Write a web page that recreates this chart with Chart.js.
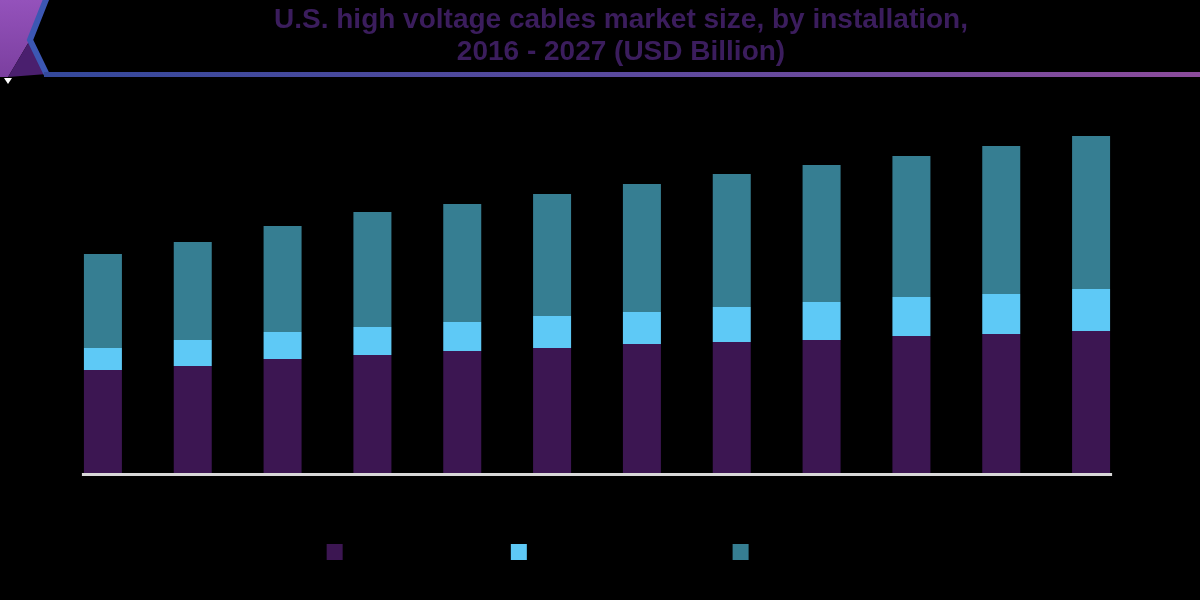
<!DOCTYPE html>
<html>
<head>
<meta charset="utf-8">
<script src="https://cdn.jsdelivr.net/npm/chart.js@4"></script>
<style>
  html, body { margin: 0; padding: 0; background: #000; }
  #wrap { width: 1200px; height: 600px; }
</style>
</head>
<body>
<div id="wrap"><canvas id="hvCables"></canvas></div>
<script>
var years = ['2016', '2017', '2018', '2019', '2020', '2021', '2022', '2023', '2024', '2025', '2026', '2027'];
var overhead    = [1.03, 1.07, 1.14, 1.18, 1.22, 1.25, 1.29, 1.31, 1.33, 1.37, 1.39, 1.42];
var underground = [0.22, 0.26, 0.27, 0.28, 0.29, 0.32, 0.32, 0.35, 0.38, 0.39, 0.40, 0.42];
var submarine   = [0.94, 0.98, 1.06, 1.15, 1.18, 1.22, 1.28, 1.33, 1.37, 1.41, 1.48, 1.53];
var titleLines = ['U.S. high voltage cables market size, by installation,', '2016 - 2027 (USD Billion)'];

// header art, title and the base line under the bars
var decor = {
  id: 'decor',
  afterLayout: function(chart) {
    // nudge the legend row a little to the right, like the original
    chart.legend.left += 10;
    chart.legend.right += 10;
  },
  beforeDraw: function(chart) {
    var c = chart.ctx;
    c.save();
    c.fillStyle = '#000';
    c.fillRect(0, 0, chart.width, chart.height);

    var g = c.createLinearGradient(0, 0, 0, 77);
    g.addColorStop(0, '#9452bb');
    g.addColorStop(1, '#7b3f9f');
    c.fillStyle = g;
    c.beginPath();
    c.moveTo(0, 0); c.lineTo(46, 0); c.lineTo(30, 40); c.lineTo(8, 77); c.lineTo(0, 77);
    c.closePath(); c.fill();

    c.fillStyle = '#4a1f6e';
    c.beginPath();
    c.moveTo(30, 40); c.lineTo(47, 74); c.lineTo(8, 77);
    c.closePath(); c.fill();

    c.strokeStyle = '#3c57b3';
    c.lineWidth = 6;
    c.beginPath();
    c.moveTo(47, -3); c.lineTo(30, 40); c.lineTo(47, 75);
    c.stroke();

    var lg = c.createLinearGradient(44, 0, 1200, 0);
    lg.addColorStop(0, '#34499c');
    lg.addColorStop(0.5, '#5a4a9e');
    lg.addColorStop(1, '#8c4c9c');
    c.fillStyle = lg;
    c.fillRect(44, 72, 1156, 5);

    c.fillStyle = '#fff';
    c.beginPath();
    c.moveTo(4, 78); c.lineTo(12, 78); c.lineTo(8, 84);
    c.closePath(); c.fill();

    c.fillStyle = '#3b1d5d';
    c.font = 'bold 28px "Liberation Sans", Arial, sans-serif';
    c.textAlign = 'center';
    c.textBaseline = 'alphabetic';
    c.fillText(titleLines[0], 621, 28);
    c.fillText(titleLines[1], 621, 60);
    c.restore();
  },
  afterDatasetsDraw: function(chart) {
    var bars = chart.getDatasetMeta(0).data;
    var first = bars[0], last = bars[bars.length - 1];
    var y = chart.scales.y.getPixelForValue(0) + 1.5;
    var c = chart.ctx;
    c.save();
    c.strokeStyle = '#d8d8d8';
    c.lineWidth = 3;
    c.beginPath();
    c.moveTo(first.x - first.width / 2 - 2, y);
    c.lineTo(last.x + last.width / 2 + 2, y);
    c.stroke();
    c.restore();
  }
};

var ctx = document.getElementById('hvCables').getContext('2d');
var chart = new Chart(ctx, {
  type: 'bar',
  data: {
    labels: years,
    datasets: [
      { label: 'Overhead', data: overhead, backgroundColor: '#3c1652' },
      { label: 'Underground', data: underground, backgroundColor: '#5ec9f6' },
      { label: 'Submarine', data: submarine, backgroundColor: '#367e92' }
    ]
  },
  options: {
    responsive: true,
    maintainAspectRatio: false,
    animation: false,
    layout: { padding: { top: 73, left: 58, right: 64, bottom: 25 } },
    datasets: { bar: { categoryPercentage: 1, barPercentage: 0.423 } },
    plugins: {
      title: { display: false },
      tooltip: { enabled: false },
      legend: {
        position: 'bottom',
        labels: {
          color: '#000',
          font: { family: 'Liberation Sans', size: 26 },
          boxWidth: 16,
          boxHeight: 16,
          padding: 41
        }
      }
    },
    scales: {
      x: {
        stacked: true,
        grid: { display: false },
        border: { display: false },
        ticks: { color: '#000', font: { family: 'Liberation Sans', size: 16 } },
        afterFit: function(scale) { scale.height = 25; }
      },
      y: { stacked: true, display: false, min: 0, max: 4 }
    }
  },
  plugins: [decor]
});
</script>
</body>
</html>
